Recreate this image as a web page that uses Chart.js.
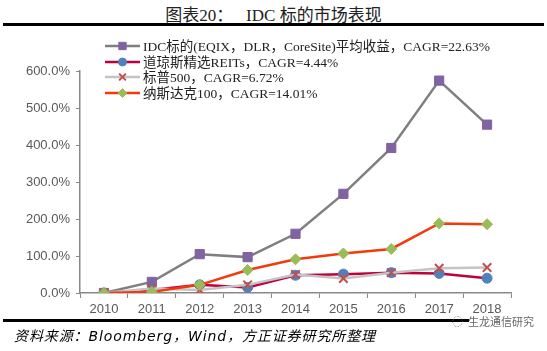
<!DOCTYPE html>
<html><head><meta charset="utf-8">
<script src="https://cdn.jsdelivr.net/npm/chart.js@4"></script>
<style>
html,body{margin:0;padding:0;background:#fff;width:547px;height:351px;overflow:hidden;}
#wrap{position:absolute;left:0;top:0;width:547px;height:351px;}
#title{position:absolute;left:0;top:1px;width:547px;text-align:center;font-family:"Liberation Serif","Noto Sans CJK SC",serif;font-size:17px;font-weight:normal;color:#222;white-space:nowrap;}
#tline{position:absolute;left:3px;top:23px;width:541px;height:3px;background:#000;}
#bline{position:absolute;left:3px;top:319px;width:466px;height:3px;background:#000;}
#src{position:absolute;left:14px;top:325px;font-family:"DejaVu Sans","Noto Sans CJK SC",sans-serif;font-style:italic;font-size:14px;letter-spacing:0.9px;color:#000;white-space:nowrap;}
#wm{position:absolute;left:452px;top:313px;font-family:"Noto Sans CJK SC",sans-serif;font-size:11px;color:#666;white-space:nowrap;}
</style></head><body>
<div id="title">图表20：&nbsp;&nbsp; IDC 标的市场表现</div>
<div id="tline"></div>
<div id="wrap"><canvas id="c"></canvas></div>
<div id="bline"></div>
<div id="src">资料来源：Bloomberg，Wind，方正证券研究所整理</div>
<div id="wm">◌ &nbsp;生龙通信研究</div>
<script>
const categories = ['2010','2011','2012','2013','2014','2015','2016','2017','2018'];
const seriesNames = [
  'IDC标的(EQIX，DLR，CoreSite)平均收益，CAGR=22.63%',
  '道琼斯精选REITs，CAGR=4.44%',
  '标普500，CAGR=6.72%',
  '纳斯达克100，CAGR=14.01%'
];
const idcValues    = [0, 30, 105, 97, 160, 268, 392, 574, 455];
const reitsValues  = [0, 8, 22, 15, 48, 51, 55, 53, 40];
const sp500Values  = [0, 12, 8, 22, 50, 39, 55, 67, 69];
const nasdaqValues = [0, 3, 22, 62, 91, 107, 119, 188, 186];
const yTicks = [0, 100, 200, 300, 400, 500, 600];

const styles = [
  {line:'#7f7f7f', fill:'#8064a2', border:'#8064a2', pt:'rect', r:6.5, w:2.5, order:3},
  {line:'#c0003a', fill:'#4f81bd', border:'#4f81bd', pt:'circle', r:5, w:2.5, order:2},
  {line:'#c4c4c4', fill:'#c0504d', border:'#c0504d', pt:'crossRot', r:6, w:2.5, order:1},
  {line:'#f23a0a', fill:'#9bbb59', border:'#9bbb59', pt:'rectRot', r:5.5, w:2.5, order:0}
];
const allValues = [idcValues, reitsValues, sp500Values, nasdaqValues];

const datasets = allValues.map((v,i)=>({
  label: seriesNames[i], data: v,
  borderColor: styles[i].line, borderWidth: styles[i].w,
  pointStyle: styles[i].pt, pointRadius: styles[i].r,
  pointBackgroundColor: styles[i].fill, pointBorderColor: styles[i].border,
  pointBorderWidth: styles[i].pt==='crossRot'?2:1,
  tension: 0, order: styles[i].order, fill:false
}));

const legendPlugin = {
  id:'customLegend',
  afterDraw(chart){
    const ctx = chart.ctx;
    const x0 = 105, x1 = 140, xt = 143;
    const ys = [46, 62, 77, 93];
    ctx.save();
    datasets.forEach((d,i)=>{
      const y = ys[i];
      ctx.strokeStyle = d.borderColor; ctx.lineWidth = 2.5;
      ctx.beginPath(); ctx.moveTo(x0,y); ctx.lineTo(x1,y); ctx.stroke();
      ctx.fillStyle = d.pointBackgroundColor; ctx.strokeStyle = d.pointBorderColor;
      ctx.lineWidth = d.pointBorderWidth;
      Chart.helpers.drawPoint(ctx, {pointStyle:d.pointStyle, radius:d.pointRadius*0.8, borderWidth:d.pointBorderWidth}, (x0+x1)/2, y);
      ctx.fillStyle = '#222';
      ctx.font = '13.5px "Liberation Serif", "Noto Sans CJK SC", serif';
      ctx.textBaseline = 'middle'; ctx.textAlign = 'left';
      ctx.fillText(d.label, xt, y+1);
    });
    ctx.restore();
  }
};

new Chart(document.getElementById('c'), {
  type:'line',
  data:{labels:categories, datasets},
  options:{
    responsive:true, maintainAspectRatio:false, animation:false,
    layout:{padding:{left:0, right:36, top:71, bottom:0}},
    plugins:{legend:{display:false}, tooltip:{enabled:false}},
    scales:{
      x:{
        offset:true,
        grid:{display:true, offset:true, drawOnChartArea:false, drawTicks:true, tickLength:5, color:'#888', lineWidth:1},
        border:{display:true, color:'#888', width:1.5},
        ticks:{color:'#595959', font:{family:'"Liberation Sans", Arial, sans-serif', size:13}, padding:4, maxRotation:0},
        afterFit(s){ s.height = 58; }
      },
      y:{
        min:0, max:600,
        afterBuildTicks(s){ s.ticks = yTicks.map(v=>({value:v})); },
        grid:{display:true, drawOnChartArea:false, drawTicks:true, tickLength:4, color:'#888'},
        border:{display:true, color:'#888', width:1.5},
        ticks:{color:'#595959', font:{family:'"Liberation Sans", Arial, sans-serif', size:13}, padding:6,
          callback:(v)=>v.toFixed(1)+'%'},
        afterFit(s){ s.width = 80; }
      }
    }
  },
  plugins:[legendPlugin]
});
</script>
</body></html>
